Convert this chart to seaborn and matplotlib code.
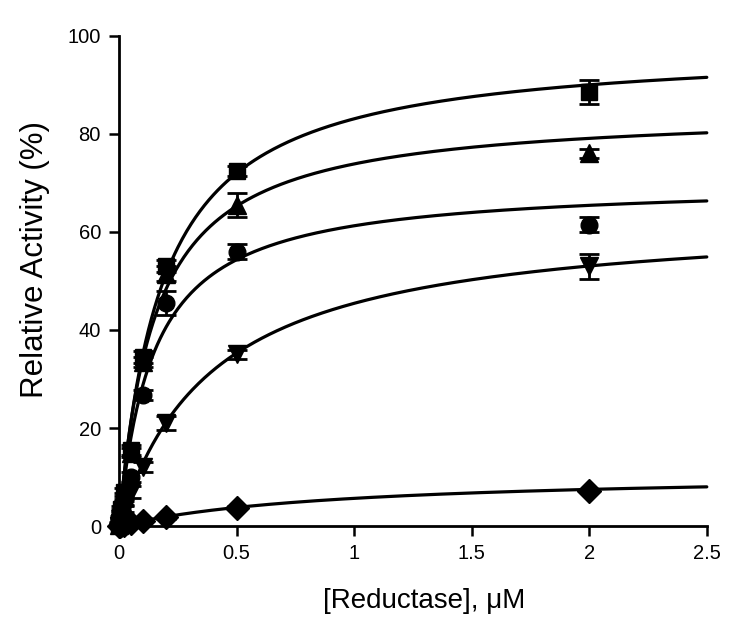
import numpy as np
import pandas as pd
import matplotlib
matplotlib.use("Agg")
import matplotlib.pyplot as plt
import seaborn as sns

# concentrations of reductase (uM)
conc = [0, 0.005, 0.01, 0.02, 0.05, 0.1, 0.2, 0.5, 2.0]

# relative activity (%) per series, with SEM
sq_y = [0.5, 1.5, 3.5, 7.0, 15.5, 34.5, 53.0, 72.5, 88.5]
sq_err = [0.3, 0.5, 0.5, 0.8, 1.0, 1.2, 1.2, 1.0, 2.5]
tri_y = [0.3, 1.2, 3.0, 6.0, 15.0, 33.5, 51.5, 65.5, 76.0]
tri_err = [0.3, 0.5, 0.5, 0.8, 1.0, 1.0, 1.5, 2.5, 1.0]
cir_y = [0.2, 1.0, 2.5, 5.0, 10.0, 26.7, 45.5, 56.0, 61.5]
cir_err = [0.2, 0.4, 0.5, 0.6, 1.0, 1.0, 2.5, 1.5, 1.5]
dn_y = [0.1, 0.6, 1.5, 3.5, 7.0, 12.0, 21.0, 35.0, 53.0]
dn_err = [0.2, 0.3, 0.5, 0.6, 1.2, 1.0, 1.5, 1.0, 2.5]
dia_y = [0.0, 0.1, 0.2, 0.3, 0.6, 1.0, 1.8, 3.7, 7.2]
dia_err = [0.1, 0.1, 0.1, 0.1, 0.2, 0.2, 0.3, 0.3, 0.3]

# hyperbolic fit parameters (Vmax, K) for each series
vmax = [98.2, 85.1, 70.2, 63.75, 11.06]
kd = [0.182, 0.152, 0.146, 0.403, 0.955]

markers = ["s", "^", "o", "v", "D"]
msizes = [12, 13, 12, 13, 12]
series = [(sq_y, sq_err), (tri_y, tri_err), (cir_y, cir_err), (dn_y, dn_err), (dia_y, dia_err)]

sns.set_style("ticks")
plt.rcParams["font.family"] = ["Liberation Sans", "DejaVu Sans"]
for key in ["text.color", "axes.labelcolor", "xtick.color", "ytick.color", "axes.edgecolor"]:
    plt.rcParams[key] = "black"

fig = plt.figure(figsize=(7.44, 6.4), dpi=100)
ax = fig.add_axes([0.16, 0.178, 0.79, 0.766])

# fitted curves
xfit = np.linspace(0, 2.5, 400)
rows = []
for i, (vm, k) in enumerate(zip(vmax, kd)):
    for xv in xfit:
        rows.append({"x": xv, "y": vm * xv / (k + xv), "s": i})
fit_df = pd.DataFrame(rows)
sns.lineplot(data=fit_df, x="x", y="y", units="s", estimator=None,
             color="black", linewidth=2.3, ax=ax, legend=False)
for line in ax.lines:
    line.set_clip_on(False)

# data points with error bars
for (yv, ev), m, ms in zip(series, markers, msizes):
    ax.errorbar(conc, yv, yerr=ev, fmt=m, color="black", markersize=ms,
                elinewidth=2.0, capsize=7, capthick=2.0, clip_on=False, zorder=3)

ax.set_xlim(0, 2.5)
ax.set_ylim(0, 100)
ax.set_xticks([0, 0.5, 1, 1.5, 2, 2.5])
ax.set_xticklabels(["0", "0.5", "1", "1.5", "2", "2.5"])
ax.set_yticks([0, 20, 40, 60, 80, 100])
ax.tick_params(axis="both", labelsize=14.5, width=1.8, length=7, direction="out", pad=6)
for sp in ["left", "bottom"]:
    ax.spines[sp].set_linewidth(2.0)
sns.despine(ax=ax)

ax.set_xlabel("[Reductase], μM", fontsize=20)
ax.set_ylabel("Relative Activity (%)", fontsize=22.5)
ax.xaxis.set_label_coords(0.519, -0.126)
ax.yaxis.set_label_coords(-0.117, 0.543)

fig.savefig("out.png", dpi=100)
